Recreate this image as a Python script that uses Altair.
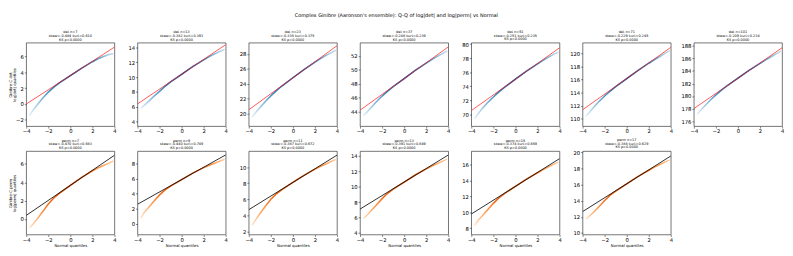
import altair as alt
import pandas as pd

# ---------------- data ----------------
X_Q = [-3.7, -3.4, -3.0, -2.5, -2.0, -1.5, -1.0, 0.0, 1.0, 2.0, 2.5, 3.0, 3.5, 3.9]

DET_N = [7, 13, 23, 37, 51, 71, 101]
DET_SKEW = ["-0.484", "-0.382", "-0.335", "-0.288", "-0.251", "-0.229", "-0.209"]
DET_KURT = ["0.610", "0.391", "0.375", "0.239", "0.235", "0.245", "0.234"]
DET_Y_7 = [-1.43, -0.81, -0.10, 0.75, 1.50, 2.13, 2.67, 3.60, 4.52, 5.35, 5.73, 6.00, 6.25, 6.36]
DET_Y_13 = [5.80, 6.20, 6.75, 7.45, 8.10, 8.78, 9.36, 10.40, 11.42, 12.35, 12.78, 13.15, 13.50, 13.75]
DET_Y_23 = [19.52, 20.10, 20.78, 21.61, 22.37, 23.07, 23.69, 24.80, 25.90, 26.90, 27.37, 27.81, 28.18, 28.49]
DET_Y_37 = [43.44, 43.88, 44.59, 45.46, 46.23, 46.94, 47.58, 48.75, 49.91, 50.98, 51.47, 51.94, 52.38, 52.74]
DET_Y_51 = [69.36, 70.04, 70.84, 71.70, 72.46, 73.20, 73.84, 75.00, 76.14, 77.19, 77.68, 78.14, 78.57, 78.87]
DET_Y_71 = [110.40, 111.00, 111.78, 112.68, 113.49, 114.25, 114.92, 116.15, 117.36, 118.48, 119.01, 119.50, 120.02, 120.39]
DET_Y_101 = [177.12, 177.69, 178.47, 179.38, 180.18, 180.94, 181.61, 182.85, 184.08, 185.22, 185.76, 186.26, 186.77, 187.17]
DET_FIT_LO = [0.0, 6.4, 20.5, 44.2, 70.52, 111.4, 178.0]
DET_FIT_HI = [7.2, 14.4, 29.1, 53.3, 79.48, 120.9, 187.7]
DET_DOM = [[-2.8, 7.75], [3.4, 14.65], [18.3, 29.5], [41.9, 53.9], [68.3, 80.2], [108.9, 121.6], [175.2, 188.5]]
DET_TICKS = [[-2, 0, 2, 4, 6], [4, 6, 8, 10, 12, 14], [20, 22, 24, 26, 28], [44, 46, 48, 50, 52],
             [70, 72, 74, 76, 78, 80], [110, 112, 114, 116, 118, 120], [176, 178, 180, 182, 184, 186, 188]]

PERM_N = [7, 9, 11, 13, 15, 17]
PERM_SKEW = ["-0.470", "-0.440", "-0.387", "-0.391", "-0.374", "-0.388"]
PERM_KURT = ["0.683", "0.749", "0.672", "0.649", "0.659", "0.629"]
PERM_Y_7 = [-0.96, -0.57, 0.01, 0.82, 1.63, 2.29, 2.80, 3.67, 4.52, 5.26, 5.57, 5.83, 6.09, 6.32]
PERM_Y_9 = [0.75, 1.50, 2.18, 3.04, 3.85, 4.51, 5.03, 5.90, 6.76, 7.50, 7.81, 8.08, 8.39, 8.62]
PERM_Y_11 = [2.76, 3.41, 4.20, 5.13, 6.00, 6.68, 7.20, 8.10, 8.98, 9.75, 10.11, 10.40, 10.73, 10.97]
PERM_Y_13 = [5.86, 6.28, 6.88, 7.66, 8.45, 9.14, 9.68, 10.60, 11.51, 12.30, 12.67, 12.98, 13.31, 13.56]
PERM_Y_15 = [8.36, 8.98, 9.58, 10.36, 11.15, 11.84, 12.38, 13.30, 14.21, 15.02, 15.41, 15.78, 16.11, 16.36]
PERM_Y_17 = [11.71, 12.07, 12.56, 13.29, 14.03, 14.69, 15.20, 16.10, 16.99, 17.78, 18.16, 18.49, 18.82, 19.06]
PERM_FIT_LO = [0.39, 2.6, 4.7, 7.1, 9.8, 12.65]
PERM_FIT_HI = [6.95, 9.2, 11.5, 14.1, 16.8, 19.55]
PERM_DOM = [[-1.7, 7.4], [-1.45, 9.7], [1.6, 12.0], [3.8, 14.6], [7.2, 17.75], [9.8, 20.15]]
PERM_TICKS = [[0, 2, 4, 6], [0, 2, 4, 6, 8], [2, 4, 6, 8, 10], [4, 6, 8, 10, 12, 14],
              [8, 10, 12, 14, 16], [10, 12, 14, 16, 18, 20]]

X_TICKS = [-4, -2, 0, 2, 4]
X_DOM = [-4, 4]

DET_Y = [DET_Y_7, DET_Y_13, DET_Y_23, DET_Y_37, DET_Y_51, DET_Y_71, DET_Y_101]
PERM_Y = [PERM_Y_7, PERM_Y_9, PERM_Y_11, PERM_Y_13, PERM_Y_15, PERM_Y_17]

FONT = "DejaVu Sans"
W, H = 92, 87

BLUE_GRAD = alt.LinearGradient(
    gradient="linear", x1=0, x2=1, y1=0, y2=0,
    stops=[alt.GradientStop(color="#e3eef8", offset=0.0),
           alt.GradientStop(color="#9ecae1", offset=0.1),
           alt.GradientStop(color="#3182bd", offset=0.28),
           alt.GradientStop(color="#08519c", offset=0.5),
           alt.GradientStop(color="#3182bd", offset=0.75),
           alt.GradientStop(color="#9ecae1", offset=0.92),
           alt.GradientStop(color="#c6dbef", offset=1.0)])
ORANGE_GRAD = alt.LinearGradient(
    gradient="linear", x1=0, x2=1, y1=0, y2=0,
    stops=[alt.GradientStop(color="#fee6ce", offset=0.0),
           alt.GradientStop(color="#fdae6b", offset=0.1),
           alt.GradientStop(color="#f16913", offset=0.25),
           alt.GradientStop(color="#d94801", offset=0.5),
           alt.GradientStop(color="#f16913", offset=0.75),
           alt.GradientStop(color="#fdae6b", offset=0.9),
           alt.GradientStop(color="#fdd0a2", offset=1.0)])

AX = dict(labelOverlap=False, labelFlush=False, labelBound=False, tickCount=30, format="d")


def panel(yq, lo, hi, dom, ticks, title_lines, grad, fit_color, fit_opacity,
          first_col, row_title, bottom):
    df = pd.DataFrame({"x": X_Q, "y": yq})
    fit = pd.DataFrame({"x": X_DOM, "y": [lo, hi]})
    xs = alt.Scale(domain=X_DOM, nice=False)
    ys = alt.Scale(domain=dom, nice=False, zero=False)
    ext = 9 if first_col else 14
    if first_col:
        yax = alt.Axis(values=ticks, title=row_title, minExtent=ext, maxExtent=ext, **AX)
    else:
        yax = alt.Axis(values=ticks, title=None, minExtent=ext, maxExtent=ext, **AX)
    if bottom:
        xax = alt.Axis(values=X_TICKS, title="Normal quantiles", **AX)
    else:
        xax = alt.Axis(values=X_TICKS, title=None, **AX)
    pts = alt.Chart(df).mark_line(color=grad, strokeWidth=1.6, clip=True).encode(
        x=alt.X("x:Q", scale=xs, axis=xax),
        y=alt.Y("y:Q", scale=ys, axis=yax),
    )
    ln = alt.Chart(fit).mark_line(color=fit_color, strokeWidth=1.0, opacity=fit_opacity,
                                  clip=True).encode(
        x=alt.X("x:Q", scale=xs),
        y=alt.Y("y:Q", scale=ys),
    )
    return alt.layer(pts, ln).properties(
        width=W, height=H,
        title=alt.TitleParams(text=title_lines, fontSize=3.6, lineHeight=3.8, offset=1.5,
                              font=FONT, fontWeight="normal", anchor="middle", color="black"),
    )


top = []
for i, n in enumerate(DET_N):
    top.append(panel(DET_Y[i], DET_FIT_LO[i], DET_FIT_HI[i], DET_DOM[i], DET_TICKS[i],
                     [f"det n={n}", f"skew={DET_SKEW[i]} kurt={DET_KURT[i]}", "KS p=0.0000"],
                     BLUE_GRAD, "#ff1a1a", 0.75, i == 0,
                     ["Ginibre-C det", "log|det| quantiles"], False))
bot = []
for i, n in enumerate(PERM_N):
    bot.append(panel(PERM_Y[i], PERM_FIT_LO[i], PERM_FIT_HI[i], PERM_DOM[i], PERM_TICKS[i],
                     [f"perm n={n}", f"skew={PERM_SKEW[i]} kurt={PERM_KURT[i]}", "KS p=0.0000"],
                     ORANGE_GRAD, "#111111", 0.9, i == 0,
                     ["Ginibre-C perm", "log|perm| quantiles"], True))

row1 = alt.hconcat(*top, spacing=6)
row2 = alt.hconcat(*bot, spacing=6)

chart = alt.vconcat(row1, row2, spacing=3).properties(
    padding=0,
    title=alt.TitleParams(
        text="Complex Ginibre (Aaronson's ensemble): Q-Q of log|det| and log|perm| vs Normal",
        fontSize=5.2, font=FONT, fontWeight="normal", anchor="middle", offset=7, dy=-5,
        color="black"),
).configure_view(
    stroke="#333333", strokeWidth=0.7
).configure_axis(
    domain=False, grid=False, tickSize=2, tickColor="#333333", tickWidth=0.6,
    labelFont=FONT, labelFontSize=5.5, labelColor="black", labelPadding=1,
    labelOverlap=False, labelFlush=False,
    titleFont=FONT, titleFontSize=4, titleFontWeight="normal", titleColor="black",
    titlePadding=1, titleLineHeight=4,
).configure_concat(spacing=6)

chart.save("out.html", embed_options={"renderer": "svg", "actions": False})
